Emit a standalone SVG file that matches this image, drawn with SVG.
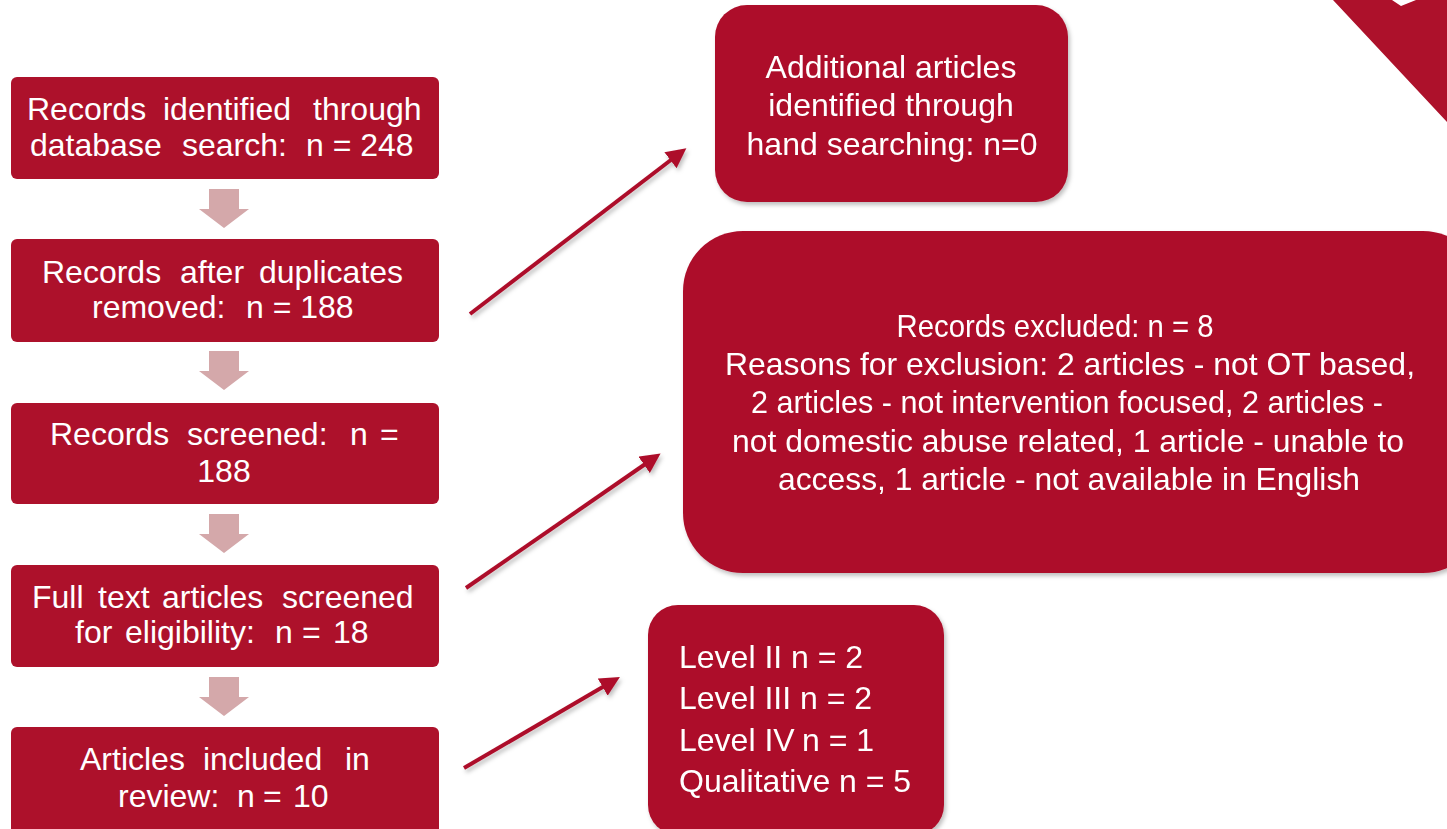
<svg xmlns="http://www.w3.org/2000/svg" width="1447" height="829" viewBox="0 0 1447 829">
<defs>
<style>
.box{fill:#ad112b;}
.t{font-family:"Liberation Sans",Arial,sans-serif;fill:#ffffff;font-size:32px;}
.c{text-anchor:middle;}
.down{fill:#d4a8aa;}
.conn{stroke:#ad112b;stroke-width:4;fill:none;marker-end:url(#ah);filter:url(#sh);}
</style>
<filter id="sh" x="-10%" y="-10%" width="130%" height="130%">
<feDropShadow dx="2" dy="3" stdDeviation="2" flood-color="#000000" flood-opacity="0.25"/>
</filter>
<marker id="ah" viewBox="0 0 10 10" refX="6" refY="5" markerWidth="5" markerHeight="5" orient="auto" markerUnits="strokeWidth">
<path d="M0,0 L10,5 L0,10 z" fill="#ad112b"/>
</marker>
</defs>
<rect width="1447" height="829" fill="#ffffff"/>
<polygon points="1333,0 1392,0 1401,6 1416,0 1447,0 1447,122" fill="#ad112b"/>

<g id="n1">
<rect class="box" x="11" y="77" width="428" height="102" rx="6"/>
<text class="t" y="120"><tspan x="27">Records</tspan><tspan x="163">identified</tspan><tspan x="313">through</tspan></text>
<text class="t" y="156"><tspan x="30">database</tspan><tspan x="182">search:</tspan><tspan x="306">n = 248</tspan></text>
</g>
<g id="n2">
<rect class="box" x="11" y="239" width="428" height="103" rx="6"/>
<text class="t" y="283"><tspan x="42">Records</tspan><tspan x="180">after</tspan><tspan x="259">duplicates</tspan></text>
<text class="t" y="318"><tspan x="92">removed:</tspan><tspan x="246">n = 188</tspan></text>
</g>
<g id="n3">
<rect class="box" x="11" y="403" width="428" height="101" rx="6"/>
<text class="t" y="445"><tspan x="50">Records</tspan><tspan x="187">screened:</tspan><tspan x="350">n</tspan><tspan x="380">=</tspan></text>
<text class="t c" x="224" y="482">188</text>
</g>
<g id="n4">
<rect class="box" x="11" y="565" width="428" height="102" rx="6"/>
<text class="t" y="608"><tspan x="32">Full</tspan><tspan x="98">text</tspan><tspan x="162">articles</tspan><tspan x="282">screened</tspan></text>
<text class="t" y="643"><tspan x="75">for</tspan><tspan x="125">eligibility:</tspan><tspan x="275">n</tspan><tspan x="302">=</tspan><tspan x="333">18</tspan></text>
</g>
<g id="n5">
<rect class="box" x="11" y="727" width="428" height="110" rx="6"/>
<text class="t" y="770"><tspan x="80">Articles</tspan><tspan x="203">included</tspan><tspan x="345">in</tspan></text>
<text class="t" y="807"><tspan x="118">review:</tspan><tspan x="237">n</tspan><tspan x="263">=</tspan><tspan x="293">10</tspan></text>
</g>

<g id="down-arrows">
<polygon class="down" points="209,189 239,189 239,209 249,209 224,228 199,209 209,209"/>
<polygon class="down" points="209,351 239,351 239,371 249,371 224,390 199,371 209,371"/>
<polygon class="down" points="209,514 239,514 239,534 249,534 224,553 199,534 209,534"/>
<polygon class="down" points="209,677 239,677 239,697 249,697 224,716 199,697 209,697"/>
</g>

<g id="n6" filter="url(#sh)">
<rect class="box" x="715" y="5" width="353" height="197" rx="32"/>
<text class="t c" x="891" y="78">Additional articles</text>
<text class="t c" x="891" y="116">identified through</text>
<text class="t c" x="892" y="155">hand searching: n=0</text>
</g>
<g id="n7" filter="url(#sh)">
<rect class="box" x="683" y="231" width="800" height="342" rx="60"/>
<text class="t c" x="1055" y="337" textLength="317" lengthAdjust="spacingAndGlyphs">Records excluded: n = 8</text>
<text class="t c" x="1070" y="375" textLength="690" lengthAdjust="spacingAndGlyphs">Reasons for exclusion:  2 articles - not OT based,</text>
<text class="t c" x="1067" y="413" textLength="632" lengthAdjust="spacingAndGlyphs">2 articles - not intervention  focused, 2 articles -</text>
<text class="t c" x="1068" y="452" textLength="672" lengthAdjust="spacingAndGlyphs">not domestic abuse related, 1 article - unable to</text>
<text class="t c" x="1069" y="490" textLength="582" lengthAdjust="spacingAndGlyphs">access, 1 article - not available in English</text>
</g>
<g id="n8" filter="url(#sh)">
<rect class="box" x="648" y="605" width="296" height="230" rx="30"/>
<text class="t" y="668"><tspan x="679">Level II</tspan><tspan x="791">n = 2</tspan></text>
<text class="t" y="709"><tspan x="679">Level III</tspan><tspan x="800">n = 2</tspan></text>
<text class="t" y="751"><tspan x="679">Level IV</tspan><tspan x="802">n = 1</tspan></text>
<text class="t" y="792"><tspan x="679">Qualitative</tspan><tspan x="839">n = 5</tspan></text>
</g>

<g id="connectors">
<line class="conn" x1="470" y1="314" x2="680" y2="153"/>
<line class="conn" x1="466" y1="588" x2="654" y2="458"/>
<line class="conn" x1="464" y1="768" x2="613" y2="681"/>
</g>
</svg>
